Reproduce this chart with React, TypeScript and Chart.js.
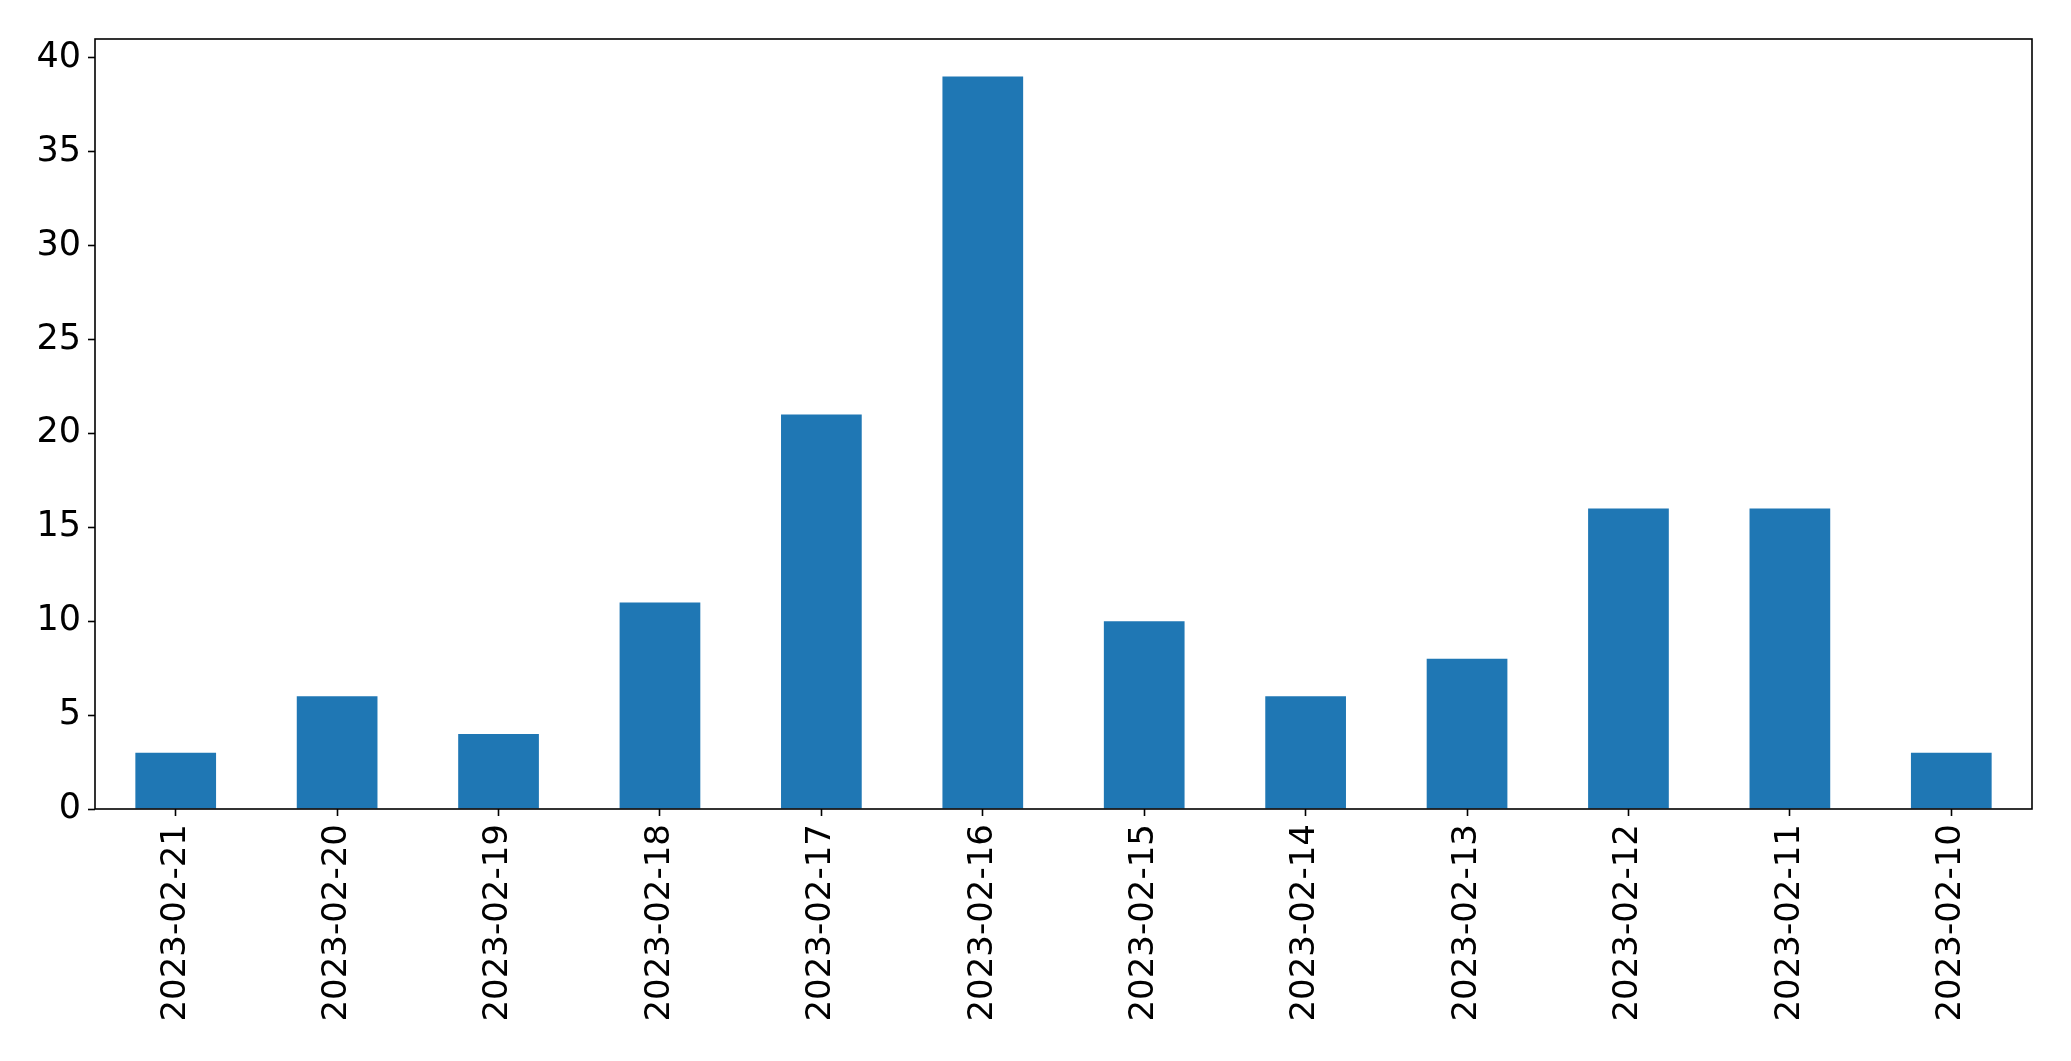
import React, { useEffect, useRef } from "react";
import { Chart, registerables } from "chart.js";

Chart.register(...registerables);

const categories = [
  "2023-02-21", "2023-02-20", "2023-02-19", "2023-02-18", "2023-02-17", "2023-02-16",
  "2023-02-15", "2023-02-14", "2023-02-13", "2023-02-12", "2023-02-11", "2023-02-10",
];
const counts = [3, 6, 4, 11, 21, 39, 10, 6, 8, 16, 16, 3];
const yMax = 41;
const yStep = 5;

const W = 2071;
const H = 1061;
const AREA = { left: 95, top: 39, right: 2032, bottom: 809 };

const framePlugin = {
  id: "frame",
  afterDraw(chart: any) {
    const { ctx, chartArea } = chart;
    ctx.save();
    ctx.strokeStyle = "#000";
    ctx.lineWidth = 1.6;
    ctx.strokeRect(chartArea.left, chartArea.top, chartArea.right - chartArea.left, chartArea.bottom - chartArea.top);
    ctx.restore();
  },
};

export default function App() {
  const ref = useRef<HTMLCanvasElement | null>(null);
  useEffect(() => {
    document.body.style.margin = "0";
    const xFont = { family: "'DejaVu Sans', sans-serif", size: 34 };
    const yFont = { family: "'DejaVu Sans', sans-serif", size: 35 };
    const chart = new Chart(ref.current!, {
      type: "bar",
      data: {
        labels: categories,
        datasets: [
          {
            data: counts,
            backgroundColor: "#1f77b4",
            borderWidth: 0,
            categoryPercentage: 1,
            barPercentage: 0.5,
          },
        ],
      },
      options: {
        animation: false,
        responsive: false,
        maintainAspectRatio: false,
        layout: { padding: { left: 0, top: AREA.top, right: W - AREA.right, bottom: 0 } },
        plugins: { legend: { display: false }, tooltip: { enabled: false } },
        scales: {
          x: {
            type: "category",
            offset: true,
            grid: { offset: false, drawOnChartArea: false, drawTicks: true, tickLength: 7, tickColor: "#000", tickWidth: 1.6 },
            border: { display: false },
            ticks: { color: "#000", font: xFont, minRotation: 90, maxRotation: 90, padding: 8, autoSkip: false },
            afterFit: (s: any) => { s.height = H - AREA.bottom; },
          },
          y: {
            min: 0,
            max: yMax,
            grid: { drawOnChartArea: false, drawTicks: true, tickLength: 7, tickColor: "#000", tickWidth: 1.6 },
            border: { display: false },
            ticks: { color: "#000", font: yFont, stepSize: yStep, includeBounds: false, padding: 7 },
            afterFit: (s: any) => { s.width = AREA.left; },
          },
        },
      },
      plugins: [framePlugin],
    });
    return () => chart.destroy();
  }, []);
  return (
    <div style={{ width: W, height: H, background: "#fff" }}>
      <canvas ref={ref} width={W} height={H} style={{ width: W, height: H, display: "block" }} />
    </div>
  );
}
